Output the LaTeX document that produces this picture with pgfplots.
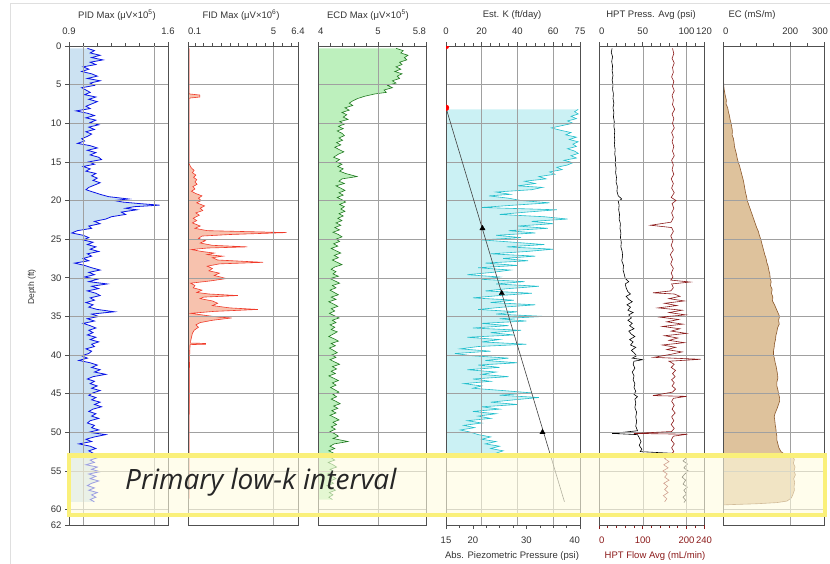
\documentclass[border=0pt]{standalone}
\usepackage{fontspec}
\setmainfont{Liberation Sans}
\newfontfamily\annfont{Open Sans}
\usepackage{pgfplots}
\pgfplotsset{compat=1.18}
\usepackage{pgfplotstable}

\definecolor{framec}{HTML}{505050}
\definecolor{gridc}{HTML}{A0A0A0}
\definecolor{textc}{HTML}{333333}
\definecolor{pidline}{HTML}{0A14E6}
\definecolor{pidfill}{HTML}{CCE2F2}
\definecolor{fidline}{HTML}{F03A2A}
\definecolor{fidfill}{HTML}{F7C2AE}
\definecolor{ecdline}{HTML}{217A21}
\definecolor{ecdfill}{HTML}{BDF0BD}
\definecolor{kline}{HTML}{22BFCC}
\definecolor{kfill}{HTML}{CBF1F4}
\definecolor{flowc}{HTML}{8B1A1A}
\definecolor{ecline}{HTML}{8C5A2E}
\definecolor{ecfill}{HTML}{DEC29C}
\definecolor{hydroc}{HTML}{404040}
\definecolor{boxline}{HTML}{FAF07A}
\definecolor{boxfill}{HTML}{FFFCE0}

\pgfplotstableread{
v d
1.03 0.3
1.08 0.6
1.05 0.9
1.12 1.2
1.06 1.5
1.14 1.8
1.05 2.1
1.09 2.4
1.00 2.7
1.04 3.0
0.99 3.3
1.06 3.6
1.10 3.9
1.03 4.2
1.12 4.5
1.05 4.8
1.08 5.1
0.99 5.4
1.02 5.7
1.05 6.0
1.01 6.3
1.09 6.6
1.04 6.9
1.10 7.2
1.06 7.5
1.02 7.8
1.05 8.1
0.95 8.4
1.03 8.7
1.08 9.0
1.02 9.3
1.09 9.6
1.05 9.9
1.11 10.2
1.04 10.5
1.08 10.8
1.02 11.1
1.06 11.4
1.03 11.7
0.99 12.0
1.01 12.3
0.96 12.6
1.05 12.9
1.10 13.2
1.03 13.5
1.09 13.8
1.05 14.1
1.11 14.4
1.13 14.7
1.04 15.0
1.08 15.3
1.00 15.6
1.05 15.9
1.02 16.2
1.09 16.5
1.06 16.8
1.10 17.1
1.07 17.4
1.12 17.7
1.08 18.0
1.04 18.3
1.02 18.6
1.07 18.9
1.12 19.2
1.18 19.5
1.32 19.8
1.22 20.0
1.28 20.2
1.40 20.4
1.54 20.6
1.36 20.8
1.30 21.0
1.38 21.2
1.27 21.5
1.30 21.8
1.20 22.1
1.16 22.4
1.08 22.7
1.12 23.0
1.04 23.3
1.06 23.6
0.96 23.9
0.92 24.2
1.00 24.5
1.04 24.8
1.00 25.1
1.07 25.4
1.03 25.7
1.09 26.0
1.05 26.3
1.11 26.6
1.03 26.9
1.06 27.2
1.00 27.5
1.04 27.8
0.94 28.1
1.01 28.4
1.06 28.7
1.12 29.0
1.04 29.3
1.08 29.6
1.01 29.9
1.10 30.2
1.04 30.5
1.17 30.8
1.06 31.1
1.11 31.4
1.03 31.7
1.09 32.0
1.12 32.3
1.05 32.6
1.08 32.9
1.02 33.2
1.07 33.5
1.04 33.8
1.10 34.1
1.22 34.4
1.06 34.7
1.11 35.0
1.03 35.3
1.08 35.6
1.00 35.9
1.05 36.2
1.09 36.5
1.04 36.8
1.07 37.1
1.03 37.4
1.09 37.7
1.05 38.0
1.11 38.3
1.06 38.6
1.08 38.9
1.02 39.2
1.06 39.5
1.04 39.8
0.99 40.1
1.03 40.4
0.97 40.7
1.05 41.0
1.10 41.3
1.06 41.6
1.12 41.9
1.08 42.2
1.16 42.5
1.07 42.8
1.03 43.1
1.08 43.4
1.05 43.7
1.10 44.0
1.06 44.3
1.12 44.6
1.07 44.9
1.04 45.2
1.09 45.5
1.06 45.8
1.12 46.1
1.08 46.4
1.13 46.7
1.07 47.0
1.04 47.3
1.09 47.6
1.06 47.9
1.11 48.2
1.05 48.5
1.03 48.8
1.08 49.1
1.06 49.4
1.11 49.7
1.04 50.0
1.16 50.3
1.08 50.6
1.02 50.9
1.06 51.2
0.97 51.5
1.05 51.8
1.09 52.1
1.04 52.4
1.07 52.7
1.03 53.0
1.10 53.3
1.05 53.6
1.08 53.9
1.02 54.2
1.10 54.5
1.06 54.8
1.12 55.1
1.04 55.4
1.09 55.7
1.05 56.0
1.11 56.3
1.06 56.6
1.03 56.9
1.08 57.2
1.04 57.5
1.10 57.8
1.06 58.1
1.09 58.4
1.05 58.7
1.08 59.0
}\pid

\pgfplotstableread{
v d
0.16 0.3
0.16 6.2
0.78 6.35
0.78 6.6
0.16 6.75
0.16 15.2
0.22 15.5
0.30 15.8
0.45 16.1
0.35 16.4
0.55 16.7
0.42 17.0
0.60 17.3
0.50 17.6
0.62 17.9
0.38 18.2
0.50 18.5
0.30 18.8
0.55 19.1
0.90 19.4
0.70 19.7
0.85 20.0
0.60 20.3
1.05 20.7
0.80 21.0
0.95 21.3
0.55 21.6
0.75 21.9
0.40 22.3
0.60 22.6
0.35 22.9
0.80 23.3
0.50 23.6
1.20 23.9
5.75 24.15
2.50 24.4
0.90 24.6
0.70 24.9
1.10 25.2
0.80 25.5
1.50 25.8
3.50 26.0
1.20 26.15
0.30 26.35
0.90 26.6
1.60 26.8
1.20 27.0
2.10 27.2
1.50 27.4
1.80 27.7
4.40 28.0
1.90 28.2
1.20 28.5
1.50 28.8
1.30 29.1
1.90 29.4
1.60 29.7
2.30 30.1
1.40 30.4
0.25 30.7
0.50 31.0
0.40 31.3
0.90 31.6
0.60 31.9
1.30 32.1
2.95 32.3
1.00 32.5
0.80 32.7
1.50 33.0
1.80 33.3
1.50 33.6
2.50 33.9
4.10 34.1
1.60 34.35
0.25 34.6
1.20 34.9
1.90 35.1
2.60 35.2
1.50 35.5
0.80 35.8
0.55 36.1
0.70 36.4
0.45 36.8
0.35 37.2
0.30 37.7
0.25 38.2
0.25 38.45
1.10 38.5
1.10 38.6
0.22 38.65
0.20 39.5
0.18 42
0.17 47
0.16 52
0.16 58.6
}\fid

\pgfplotstableread{
v d
5.30 0.3
5.42 0.6
5.38 0.9
5.50 1.2
5.44 1.5
5.48 1.8
5.36 2.1
5.40 2.4
5.30 2.7
5.38 3.0
5.28 3.3
5.40 3.6
5.32 3.9
5.36 4.2
5.24 4.5
5.30 4.8
5.16 5.1
5.24 5.4
5.10 5.7
5.14 6.0
4.95 6.2
4.78 6.5
4.66 6.8
4.58 7.1
4.52 7.4
4.58 7.7
4.45 8.0
4.52 8.3
4.40 8.6
4.48 8.9
4.42 9.2
4.50 9.5
4.36 9.8
4.44 10.1
4.34 10.4
4.42 10.7
4.32 11.0
4.40 11.3
4.44 11.6
4.35 11.9
4.41 12.2
4.31 12.5
4.38 12.8
4.28 13.1
4.35 13.4
4.43 13.7
4.34 14.0
4.26 14.4
4.36 14.7
4.30 15.0
4.40 15.3
4.33 15.6
4.42 15.9
4.36 16.2
4.46 16.5
4.65 16.9
4.40 17.2
4.35 17.5
4.44 17.8
4.30 18.1
4.38 18.4
4.45 18.7
4.35 19.0
4.42 19.3
4.32 19.6
4.40 19.9
4.46 20.2
4.36 20.5
4.44 20.8
4.38 21.1
4.45 21.4
4.35 21.7
4.42 22.0
4.33 22.3
4.40 22.6
4.30 22.9
4.38 23.2
4.28 23.5
4.36 23.8
4.25 24.1
4.34 24.4
4.40 24.7
4.30 25.0
4.36 25.3
4.26 25.6
4.33 25.9
4.22 26.2
4.30 26.5
4.38 26.8
4.27 27.1
4.34 27.4
4.24 27.7
4.32 28.0
4.40 28.3
4.28 28.6
4.22 28.9
4.30 29.2
4.25 29.5
4.34 29.8
4.20 30.1
4.28 30.4
4.36 30.7
4.24 31.0
4.30 31.3
4.20 31.6
4.27 31.9
4.34 32.2
4.22 32.5
4.30 32.8
4.18 33.1
4.26 33.4
4.33 33.7
4.22 34.0
4.28 34.3
4.19 34.6
4.27 34.9
4.35 35.2
4.24 35.5
4.30 35.8
4.20 36.1
4.28 36.4
4.22 36.7
4.32 37.0
4.25 37.3
4.18 37.6
4.27 37.9
4.34 38.2
4.22 38.5
4.29 38.8
4.19 39.1
4.26 39.4
4.32 39.7
4.23 40.0
4.30 40.3
4.20 40.6
4.28 40.9
4.36 41.2
4.24 41.5
4.31 41.8
4.22 42.1
4.29 42.4
4.18 42.7
4.26 43.0
4.34 43.3
4.24 43.6
4.30 43.9
4.21 44.2
4.28 44.5
4.35 44.8
4.25 45.1
4.31 45.4
4.22 45.7
4.30 46.0
4.37 46.3
4.26 46.6
4.33 46.9
4.23 47.2
4.30 47.5
4.20 47.8
4.28 48.1
4.35 48.4
4.25 48.7
4.31 49.0
4.22 49.3
4.29 49.6
4.20 49.9
4.28 50.2
4.34 50.5
4.25 50.8
4.50 51.2
4.27 51.5
4.20 51.8
4.28 52.1
4.18 52.4
4.26 52.7
4.32 53.0
4.22 53.3
4.28 53.6
4.17 53.9
4.25 54.2
4.31 54.5
4.20 54.8
4.27 55.1
4.16 55.4
4.24 55.7
4.30 56.0
4.20 56.3
4.26 56.6
4.15 56.9
4.23 57.2
4.29 57.5
4.19 57.8
4.25 58.1
4.18 58.4
4.24 58.7
}\ecd

\pgfplotstableread{
v d
74 8.2
72 8.5
74 8.8
70 9.1
73 9.4
68 9.7
71 10.0
65 10.3
59 10.6
64 10.9
70 11.2
67 11.5
73 11.8
69 12.1
74 12.4
71 12.7
73 13.0
68 13.3
72 13.6
74 13.9
70 14.2
73 14.5
66 14.8
71 15.1
68 15.4
62 15.7
65 16.0
58 16.3
61 16.6
52 16.9
56 17.2
44 17.5
50 17.8
40 18.1
54 18.3
48 18.6
28 18.9
36 19.2
24 19.4
35 19.7
42 20.0
58 20.3
38 20.6
20 20.9
62 21.2
45 21.5
30 21.8
55 22.1
68 22.4
48 22.7
60 23.0
40 23.3
57 23.6
35 23.9
50 24.2
28 24.5
42 24.8
20 25.1
38 25.4
55 25.7
34 26.0
60 26.3
45 26.6
25 26.9
50 27.2
32 27.5
46 27.8
22 28.1
40 28.4
18 28.7
36 29.0
26 29.3
12 29.6
30 29.9
20 30.2
44 30.5
28 30.8
52 31.1
35 31.4
22 31.7
48 32.0
30 32.3
15 32.6
38 32.9
25 33.2
50 33.5
32 33.8
18 34.1
40 34.4
28 34.7
55 35.0
30 35.3
45 35.6
20 35.9
35 36.2
15 36.5
42 36.8
25 37.1
38 37.4
12 37.7
30 38.0
20 38.3
45 38.6
18 38.9
8 39.2
25 39.5
5 39.8
15 40.1
35 40.4
22 40.7
40 41.0
18 41.3
30 41.6
12 41.9
28 42.2
20 42.5
35 42.8
15 43.1
25 43.4
10 43.7
20 44.0
15 44.3
32 44.6
48 44.9
30 45.2
52 45.5
38 45.8
25 46.1
40 46.4
20 46.7
30 47.0
15 47.3
28 47.6
18 47.9
25 48.2
12 48.5
20 48.8
10 49.1
16 49.4
8 49.7
14 50.0
18 50.3
25 50.6
20 50.9
28 51.2
22 51.5
30 51.8
25 52.1
32 52.4
28 52.7
35 53.0
30 53.3
}\kdata

\pgfplotstableread{
v d
15 0.3
14 0.8
15.5 1.4
14.5 2.0
15.5 2.6
15 3.2
16 3.8
15 4.4
16 5.0
15.5 5.6
16.5 6.2
16 6.8
17 7.4
16 8.0
17 8.6
16.5 9.2
17.5 9.8
17 10.4
18 11.0
17.5 11.6
18 12.2
17.5 12.8
18.5 13.4
18 14.0
19 14.6
18.5 15.2
19.5 15.8
19 16.4
20 17.0
19.5 17.6
21 18.2
20.5 18.8
22 19.4
26 19.8
22 20.1
23 20.6
22.5 21.2
23.5 21.8
23 22.4
24.5 23.0
24 23.6
25 24.2
24.5 24.8
25.5 25.4
25 26.0
26.5 26.6
27 27.2
26 27.8
28 28.4
27.5 29.0
29 29.6
30 30.1
34 30.5
30 30.8
31 31.3
33 31.8
36 32.1
31 32.4
34 32.8
38 33.1
32 33.5
36 33.8
33 34.2
39 34.5
34 34.8
37 35.2
33 35.5
38 35.9
35 36.2
40 36.6
34 36.9
37 37.3
41 37.6
35 38.0
39 38.3
36 38.7
42 39.0
37 39.4
40 39.7
43 40.1
38 40.4
50 40.6
40 40.8
39 41.2
41 41.7
38 42.2
40 42.7
39 43.2
41 43.7
40 44.2
42 44.7
40 45.1
44 45.4
41 45.7
42 46.2
41 46.8
43 47.4
42 48.0
43 48.6
42 49.2
44 49.8
15 50.15
44 50.3
46 50.7
48 51.2
46 51.7
49 52.2
47 52.5
97 52.8
100 53.3
96 53.7
101 54.1
97 54.6
102 55.0
98 55.4
95 55.8
99 56.2
96 56.7
101 57.1
97 57.5
100 58.0
96 58.4
99 58.8
97 59.1
}\press

\pgfplotstableread{
v d
168 0.3
171 1.0
167 1.6
172 2.2
168 2.8
170 3.4
166 4.0
171 4.6
168 5.2
172 5.8
167 6.4
170 7.0
168 7.6
173 8.2
167 8.8
171 9.4
168 10.0
172 10.6
166 11.2
170 11.8
167 12.4
171 13.0
168 13.6
172 14.2
166 14.8
170 15.4
167 16.0
171 16.6
165 17.2
170 17.8
166 18.4
172 19.0
165 19.6
176 20.0
167 20.4
171 21.0
166 21.6
170 22.2
165 22.8
118 23.2
166 23.5
170 24.0
164 24.6
169 25.2
165 25.8
170 26.4
163 27.0
168 27.6
164 28.2
170 28.8
165 29.4
169 29.9
164 30.3
208 30.55
166 30.8
170 31.3
164 31.7
123 31.95
172 32.1
185 32.4
160 32.7
195 33.0
150 33.3
178 33.6
135 33.9
190 34.2
160 34.5
198 34.8
140 35.1
182 35.4
155 35.7
192 36.0
145 36.3
185 36.6
165 36.9
200 37.2
150 37.5
180 37.8
160 38.1
195 38.4
145 38.7
175 39.0
155 39.3
190 39.6
165 39.9
125 40.3
232 40.55
160 40.8
172 41.2
165 41.6
175 42.0
168 42.4
174 42.8
166 43.2
172 43.6
167 44.0
175 44.4
168 44.8
123 45.25
200 45.35
170 45.6
166 46.0
172 46.5
167 47.0
174 47.5
166 48.0
171 48.5
165 49.0
172 49.5
166 49.9
80 50.15
202 50.25
170 50.5
165 51.0
172 51.5
166 52.0
171 52.5
162 53.0
150 53.4
160 53.8
148 54.2
158 54.6
146 55.0
156 55.4
150 55.8
160 56.2
148 56.6
157 57.0
150 57.4
158 57.8
147 58.2
155 58.6
150 59.0
}\flow

\pgfplotstableread{
v d
2 0.3
2 4.8
3 5.5
5 6.0
7 6.5
10 7.0
9 7.5
14 8.0
16 8.5
19 9.0
21 9.5
24 10.0
26 10.5
28 11.0
27 11.5
31 12.0
33 12.5
34 13.0
37 13.5
40 14.0
42 14.5
45 15.0
49 15.5
52 16.0
55 16.5
58 17.0
61 17.5
63 18.0
65 18.5
67 19.0
70 19.5
72 20.0
76 20.5
80 21.0
84 21.5
88 22.0
92 22.5
96 23.0
100 23.5
105 24.0
108 24.5
112 25.0
115 25.5
118 26.0
121 26.5
124 27.0
128 27.5
130 28.0
134 28.5
136 29.0
139 29.5
140 30.0
143 30.5
141 31.0
146 31.5
144 32.0
148 32.5
147 33.0
153 33.5
158 34.0
163 34.5
168 35.0
165 35.5
167 36.0
162 36.5
160 37.0
157 37.5
156 38.0
153 38.5
152 39.0
150 39.5
150 40.0
153 40.5
155 41.0
158 41.5
160 42.0
162 42.5
163 43.0
160 43.5
160 44.0
163 44.5
165 45.0
168 45.5
168 46.0
164 46.5
160 47.0
155 47.5
152 48.0
154 48.5
155 49.0
157 49.5
158 50.0
160 50.5
160 51.0
163 51.5
166 52.0
172 52.5
182 52.8
205 53.1
212 53.5
209 54.0
214 54.5
211 55.0
215 55.5
210 56.0
213 56.5
211 57.0
212 57.5
208 58.0
203 58.5
190 58.9
160 59.1
100 59.25
30 59.35
2 59.4
}\ecdata

\pgfplotsset{
  logpanel/.style={
    scale only axis, height=479pt, anchor=south west,
    ymin=0, ymax=62, y dir=reverse,
    axis on top,
    font=\fontsize{9.5}{11}\selectfont,
    axis line style={draw=framec, line width=0.9pt},
    ytick={0,5,...,60}, yticklabels={}, ymajorgrids,
    ytick style={draw=none},
    grid style={draw=gridc, line width=0.5pt},
    xtick pos=right, xticklabel pos=right,
    tick align=outside,
    major tick length=4pt, minor tick length=3pt,
    xtick style={draw=framec, line width=0.6pt},
    tick label style={text=textc},
    xticklabel style={yshift=4pt},
  },
  second/.style={
    scale only axis, height=479pt, anchor=south west,
    ymin=0, ymax=62, y dir=reverse,
    font=\fontsize{9.5}{11}\selectfont,
    hide y axis,
    axis line style={draw=framec, line width=0.9pt},
    xtick pos=left, xticklabel pos=left,
    tick align=outside,
    major tick length=4pt, minor tick length=3pt,
    xtick style={draw=framec, line width=0.6pt},
    tick label style={text=textc},
    xticklabel style={yshift=-4pt},
  },
}

\begin{document}
\begin{tikzpicture}
\path[use as bounding box] (0pt,0pt) rectangle (830pt,564pt);
\draw[gray!25, line width=0.6pt] (10pt,0pt) -- (10pt,561pt) -- (830pt,561pt);

% Panel 1: PID
\begin{axis}[logpanel, at={(69pt,39pt)}, width=99pt,
  xmin=0.9, xmax=1.6, xtick={0.9,1.6}, xticklabels={0.9,1.6},
  minor xtick={1.0,1.1,1.2,1.3,1.4,1.5},
  extra x ticks={1.0,1.5}, extra x tick labels={},
  extra x tick style={grid=major, major tick length=3pt},
  ytick={0,5,...,60,62},
  yticklabels={0,5,10,15,20,25,30,35,40,45,50,55,60,62},
  ytick pos=left, ytick style={draw=framec, line width=0.6pt}]
\addplot[draw=none, fill=pidfill] table[x=v,y=d] {\pid} -- (axis cs:0.9,59) -- (axis cs:0.9,0.3) -- cycle;
\addplot[pidline, line width=0.8pt] table[x=v,y=d] {\pid};
\end{axis}

% Panel 2: FID
\begin{axis}[logpanel, at={(188pt,39pt)}, width=110pt,
  xmin=0.1, xmax=6.4, xtick={0.1,5,6.4}, xticklabels={\rlap{0.1},5,6.4},
  minor xtick={0.5,1,1.5,2,2.5,3,3.5,4,4.5,5.5,6}, xmajorgrids]
\addplot[draw=none, fill=fidfill] table[x=v,y=d] {\fid} -- (axis cs:0.1,58.6) -- (axis cs:0.1,0.3) -- cycle;
\addplot[fidline, line width=0.6pt] table[x=v,y=d] {\fid};
\end{axis}

% Panel 3: ECD
\begin{axis}[logpanel, at={(318pt,39pt)}, width=108pt,
  xmin=4, xmax=5.8, xtick={4,5,5.8}, xticklabels={\rlap{4},5,\llap{5.8}},
  minor xtick={4.2,4.4,4.6,4.8,5.2,5.4,5.6}, xmajorgrids]
\addplot[draw=none, fill=ecdfill] table[x=v,y=d] {\ecd} -- (axis cs:4,58.7) -- (axis cs:4,0.3) -- cycle;
\addplot[ecdline, line width=0.6pt] table[x=v,y=d] {\ecd};
\end{axis}

% Panel 4: Est. K and pressure
\begin{axis}[logpanel, at={(446pt,39pt)}, width=134pt,
  xmin=0, xmax=75, xtick={0,20,40,60,75}, xticklabels={0,20,40,60,75},
  minor xtick={5,10,15,25,30,35,45,50,55,65,70}, xmajorgrids]
\addplot[draw=none, fill=kfill] table[x=v,y=d] {\kdata} -- (axis cs:0,53.3) -- (axis cs:0,8.2) -- cycle;
\addplot[kline, line width=0.6pt] table[x=v,y=d] {\kdata};
\end{axis}
\begin{axis}[second, at={(446pt,39pt)}, width=134pt,
  xmin=15, xmax=40, xtick={15,20,30,40}, xticklabels={15,20,30,\llap{40}},
  minor xtick={17.5,22.5,25,27.5,32.5,35,37.5},
  clip marker paths=true]
\addplot[hydroc, line width=0.6pt] coordinates {(15,8.0) (37.1,59)};
\addplot[only marks, mark=triangle*, mark size=3pt, black] coordinates {(21.8,23.6) (25.4,32.0) (33.0,50.0)};
\addplot[only marks, mark=*, mark size=3pt, red] coordinates {(15,0) (15,8.0)};
\end{axis}

% Panel 5: HPT
\begin{axis}[logpanel, at={(599pt,39pt)}, width=105pt,
  xmin=0, xmax=120, xtick={0,50,100,120}, xticklabels={\rlap{0},50,100,120},
  minor xtick={10,20,30,40,60,70,80,90,110}, xmajorgrids]
\addplot[black, line width=0.6pt] table[x=v,y=d] {\press};
\end{axis}
\begin{axis}[second, at={(599pt,39pt)}, width=105pt,
  xmin=0, xmax=240, xtick={0,100,200,240}, xticklabels={\rlap{0},100,200,240},
  minor xtick={20,40,60,80,120,140,160,180,220},
  xtick style={draw=flowc, line width=0.6pt},
  tick label style={text=flowc}]
\addplot[flowc, line width=0.6pt] table[x=v,y=d] {\flow};
\end{axis}

% Panel 6: EC
\begin{axis}[logpanel, at={(723pt,39pt)}, width=101pt,
  xmin=0, xmax=300, xtick={0,200,300}, xticklabels={\rlap{0},200,\llap{300\kern-4pt}},
  minor xtick={50,100,150,250}, xmajorgrids]
\addplot[draw=none, fill=ecfill] table[x=v,y=d] {\ecdata} -- (axis cs:0,59.4) -- (axis cs:0,0.3) -- cycle;
\addplot[ecline, line width=0.6pt] table[x=v,y=d] {\ecdata};
\end{axis}

% titles
\begin{scope}[every node/.style={font=\fontsize{9.5}{11}\selectfont, text=textc}]
\node at (117pt,549pt) {PID Max (μV×10\textsuperscript{5})};
\node at (241pt,549pt) {FID Max (μV×10\textsuperscript{6})};
\node at (368pt,549pt) {ECD Max (μV×10\textsuperscript{5})};
\node at (512pt,549pt) {Est. K (ft/day)};
\node at (651pt,549pt) {HPT Press. Avg (psi)};
\node at (752pt,549pt) {EC (mS/m)};
\node at (512pt,8pt) {Abs. Piezometric Pressure (psi)};
\node[text=flowc] at (655pt,8pt) {HPT Flow Avg (mL/min)};
\node[rotate=90, font=\fontsize{8.5}{10}\selectfont] at (32pt,277pt) {Depth (ft)};
\end{scope}

% highlight box
\draw[boxline, line width=4.5pt, fill=boxfill, fill opacity=0.6] (69pt,49pt) rectangle (825pt,108.5pt);
\node[anchor=base west, inner sep=0pt, font=\annfont\itshape\fontsize{28}{32}\selectfont, text=black!85] at (125pt,74pt) {Primary low-k interval};
\end{tikzpicture}
\end{document}
